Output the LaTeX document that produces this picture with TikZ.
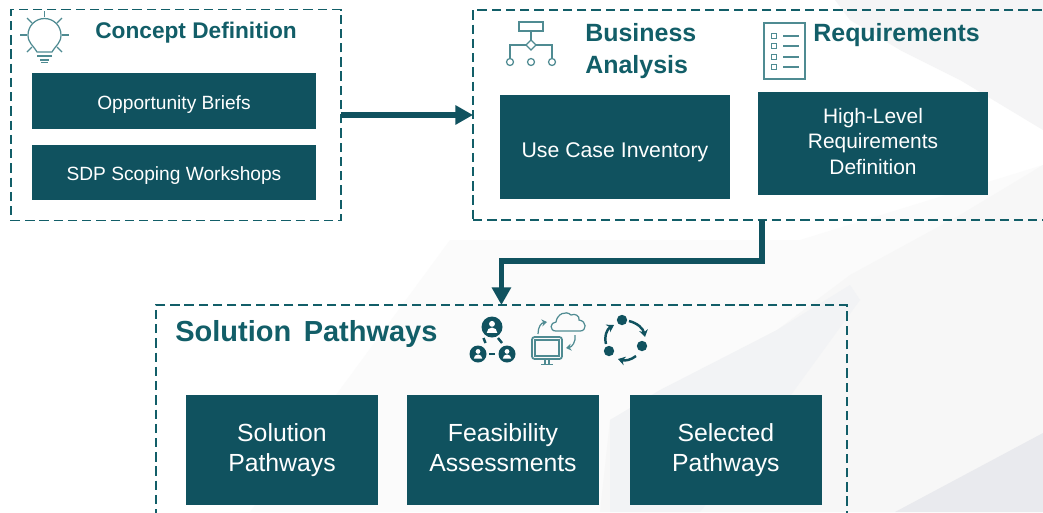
\documentclass[tikz,border=0pt]{standalone}
\usepackage{fontspec}
\setmainfont{Liberation Sans}
\usepackage{tikz}
\usetikzlibrary{positioning,calc,arrows.meta}
\definecolor{tealbox}{HTML}{10525F}
\definecolor{tealline}{HTML}{125E68}
\definecolor{tealicon}{HTML}{4F8B92}
\definecolor{paleone}{HTML}{FBFBFB}
\definecolor{paletwo}{HTML}{F7F7F7}
\definecolor{palethree}{HTML}{F2F3F5}
\definecolor{palefour}{HTML}{E9EAEE}
\definecolor{palefive}{HTML}{F5F5F6}
\tikzset{
	framebox/.style={draw=tealline,line width=1.05pt,dash pattern=on 5.3pt off 2.8pt,inner sep=0pt,outer sep=0pt},
	textrule/.style 2 args={execute at begin node={\rule{0pt}{#1}},execute at end node={\rule[-#2]{0pt}{#2}}},
	smallbox/.style={fill=tealbox,text=white,align=center,inner sep=0pt,outer sep=0pt,textrule={11.8pt}{2pt},font=\fontsize{10.9}{13}\selectfont},
	midbox/.style={fill=tealbox,text=white,align=center,inner sep=0pt,outer sep=0pt,minimum width=4.6cm,textrule={13.9pt}{2.5pt},font=\fontsize{11.9}{14.5}\selectfont},
	bigbox/.style={fill=tealbox,text=white,align=center,inner sep=0pt,outer sep=0pt,minimum width=3.84cm,minimum height=2.2cm,textrule={17.2pt}{3pt},font=\fontsize{14.1}{17}\selectfont},
	title/.style={text=tealline,inner sep=0pt,align=left,font=\bfseries\fontsize{14.2}{18}\selectfont},
	flow/.style={draw=tealbox,line width=2.9pt,-{Triangle[length=10pt,width=10.5pt]}},
	thinicon/.style={draw=tealicon,line width=0.7pt},
	darkicon/.style={draw=tealbox,line width=1.4pt},
}
\begin{document}
\begin{tikzpicture}[x=0.02cm,y=-0.02cm]
	\useasboundingbox (0,0) rectangle (1043,512);
	\begin{scope}
		\clip (0,0) rectangle (1043,512);
		% background
		\fill[white] (0,0) rectangle (1043,512);
		\fill[palefive] (835,0)--(1043,0)--(1043,130)--(960,80)--(900,50)--(850,20)--cycle;
		\fill[paleone] (250,512)--(450,240)--(800,240)--(1043,165)--(1043,512)--cycle;
		\fill[paletwo] (600,512)--(610,420)--(777,330)--(850,275)--(960,215)--(1043,165)--(1043,512)--cycle;
		\fill[palethree] (610,420)--(660,390)--(777,330)--(850,285)--(860,300)--(780,410)--(700,512)--(610,512)--cycle;
		\fill[palefour] (895,512)--(1043,433)--(1043,512)--cycle;

		% frames
		\node[framebox,minimum width=6.6cm,minimum height=4.22cm,anchor=north west] (concept) at (11,9.5) {};
		\node[framebox,minimum width=11.56cm,minimum height=4.2cm,anchor=north west] (business) at (473,10) {};
		\node[framebox,minimum width=13.82cm,minimum height=5cm,anchor=north west] (solution) at (156,305) {};

		% concept definition
		\node[smallbox,minimum width=5.68cm,minimum height=1.12cm,anchor=north west] (briefs) at (32,73) {Opportunity Briefs};
		\node[smallbox,minimum width=5.68cm,minimum height=1.1cm,below=0.32cm of briefs] (workshops) {SDP Scoping Workshops};
		\node[title,font=\bfseries\fontsize{12.9}{15}\selectfont,anchor=west] (concepttitle) at (95,32.5) {Concept Definition};

		% business analysis
		\node[midbox,minimum height=2.08cm,anchor=north west,textrule={13.2pt}{2.5pt},font=\fontsize{12.1}{15}\selectfont] (usecase) at (500,95) {Use Case Inventory};
		\node[midbox,minimum height=2.06cm,anchor=north west] (highlevel) at (758,92) {High-Level\\Requirements\\Definition};
		\node[title,anchor=west] (businesstitle) at (585,51) {Business\\Analysis};
		\node[title,anchor=west] (reqtitle) at (813,35) {Requirements};

		% solution pathways
		\node[bigbox,anchor=north west] (pathways) at (186,395) {Solution\\Pathways};
		\node[bigbox,right=0.58cm of pathways] (feasibility) {Feasibility\\Assessments};
		\node[bigbox,right=0.62cm of feasibility] (selected) {Selected\\Pathways};
		\node[title,font=\bfseries\fontsize{16.5}{19}\selectfont,anchor=west] (solutiontitle) at (175,334) {Solution\hspace{2.5pt} Pathways};

		% arrows
		\draw[flow] (concept.east)--(business.west);
		\coordinate (turn) at ($(business.south)+(0,41)$);
		\draw[flow] (business.south)|-(turn)-|(solution.north);

		% bulb
		\draw[thinicon] (37,52) .. controls (33,45) and (28,43) .. (28,35) arc[start angle=180,end angle=360,radius=16.5] .. controls (61,43) and (56,45) .. (52,52)--cycle;
		\draw[thinicon] (37,56)--(52,56);
		\draw[thinicon] (40,60)--(49,60);
		\draw[thinicon] (41,62.5)--(48,62.5);
		\foreach \a/\b/\c/\d in {44.5/11/44.5/17,27/18/32/23,62/18/57/23,20/35/27/35,62/35/69/35,27/52/32/47,62/52/57/47}{%
			\draw[thinicon] (\a,\b)--(\c,\d);
		}

		% org chart
		\draw[thinicon] (519,22) rectangle (543,31);
		\draw[thinicon] (531,31)--(531,40);
		\draw[thinicon] (531,40)--(536,45)--(531,50)--(526,45)--cycle;
		\draw[thinicon] (510,58)--(510,45)--(526,45);
		\draw[thinicon] (552,58)--(552,45)--(536,45);
		\foreach \idi in {510,531,552}{%
			\draw[thinicon] (\idi,62) circle[radius=3.5];
		}

		% checklist
		\draw[thinicon] (764,23) rectangle (805,79);
		\foreach \idi in {36,46,57,67}{%
			\draw[thinicon] (771.5,\idi-2.5) rectangle (776.5,\idi+2.5);
			\draw[thinicon] (783,\idi)--(799,\idi);
		}

		% people
		\foreach \a/\b/\r in {492/327/10.5,478/354/8.5,507/354/8.5}{%
			\fill[tealbox] (\a,\b) circle[radius=\r];
			\fill[white] (\a,\b-0.3*\r) circle[radius=0.28*\r];
			\fill[white] (\a-0.5*\r,\b+0.55*\r) arc[start angle=180,end angle=360,radius=0.5*\r]--cycle;
		}
		\draw[darkicon] (483.5,338)--(485.5,343);
		\draw[darkicon] (498,338)--(502,343);
		\draw[darkicon] (489,354)--(495,354);

		% cloud and monitor
		\draw[thinicon,line width=1pt,rounded corners=1.5] (532,337) rectangle (562,359);
		\draw[thinicon] (535,340) rectangle (559,356);
		\draw[thinicon] (545,359)--(545,364);
		\draw[thinicon] (549,359)--(549,364);
		\draw[thinicon] (541,364.5)--(553,364.5);
		\draw[thinicon] (556,331) .. controls (549,331) and (550,322) .. (556,322) .. controls (557,314) and (566,310) .. (571,315) .. controls (575,313) and (580,316) .. (579,320) .. controls (587,321) and (587,331) .. (580,331)--cycle;
		\draw[thinicon,-{Stealth[length=3pt,width=4pt]}] (538,334) .. controls (538,327) and (541,323) .. (547,322);
		\draw[thinicon,-{Stealth[length=3pt,width=4pt]}] (575,335) .. controls (576,342) and (572,347) .. (566,348);

		% cycle
		\foreach \a/\b in {622/320,642/346,609/351}{%
			\fill[tealbox] (\a,\b) circle[radius=5.2];
		}
		\draw[darkicon,-{Stealth[length=4pt,width=5pt]}] (629,321) .. controls (637,323) and (643,328) .. (645,337);
		\draw[darkicon,-{Stealth[length=4pt,width=5pt]}] (636,356) .. controls (631,360) and (625,361) .. (618,359);
		\draw[darkicon,-{Stealth[length=4pt,width=5pt]}] (606,344) .. controls (604,336) and (607,329) .. (614,325);
	\end{scope}
\end{tikzpicture}
\end{document}
